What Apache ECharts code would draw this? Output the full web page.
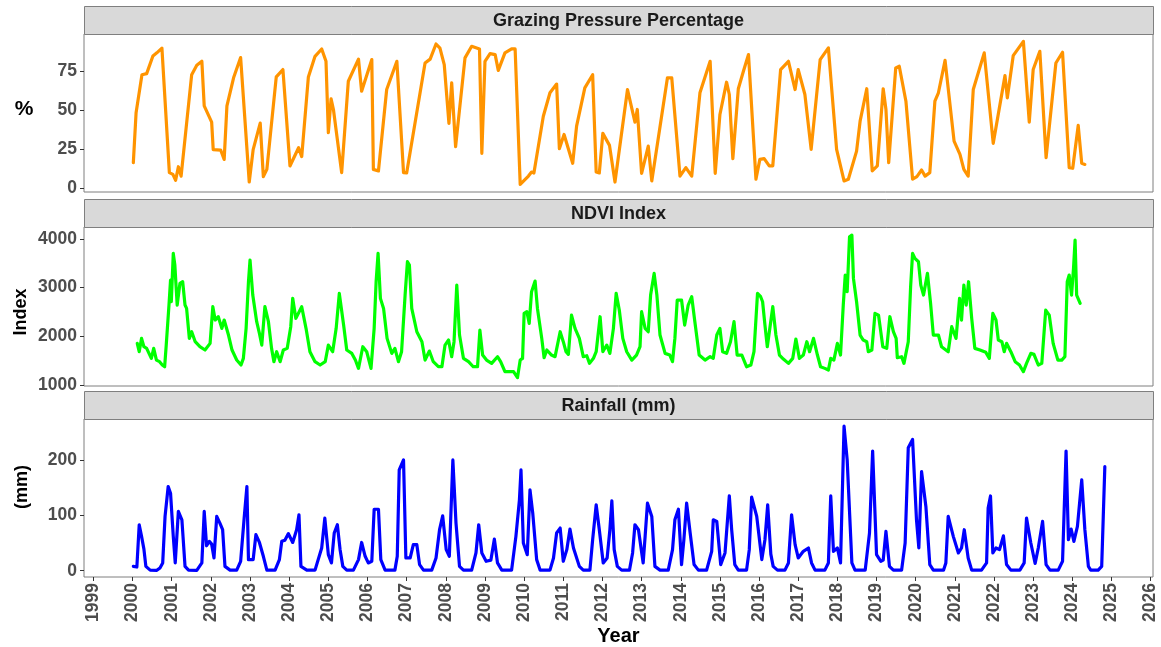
<!DOCTYPE html>
<html>
<head>
<meta charset="utf-8">
<script src="https://cdn.jsdelivr.net/npm/echarts@6/dist/echarts.min.js"></script>
<style>
  html, body { margin: 0; padding: 0; background: #fff; }
  #chart { width: 1161px; height: 647px; }
</style>
</head>
<body>
<div id="chart"></div>
<script>
// x = decimal year
const grazing = [[2000.02,16.6],[2000.09,48.6],[2000.24,73],[2000.36,73.7],[2000.52,85],[2000.62,87],[2000.75,90],[2000.79,89],[2000.94,10.2],[2001.03,9.1],[2001.10,5.3],[2001.17,14],[2001.24,8],[2001.51,73],[2001.64,79],[2001.77,81.6],[2001.83,53],[2002.02,42.6],[2002.06,25],[2002.25,24.7],[2002.34,18.7],[2002.41,53],[2002.58,71],[2002.76,84],[2002.98,4.2],[2003.08,25],[2003.26,42],[2003.34,7.7],[2003.43,12.3],[2003.67,71.6],[2003.84,76.3],[2004.02,14.5],[2004.24,26.2],[2004.32,20.5],[2004.49,71.6],[2004.66,84.8],[2004.83,89.5],[2004.94,81.6],[2005.0,35.8],[2005.07,57.5],[2005.13,50.7],[2005.34,10.2],[2005.51,68.8],[2005.77,83],[2005.85,62.4],[2006.11,82.7],[2006.15,12.3],[2006.28,11.3],[2006.49,63.5],[2006.75,81.6],[2006.92,10.2],[2007.0,10],[2007.47,80.5],[2007.6,83],[2007.75,92.7],[2007.85,90],[2007.96,79.5],[2008.08,41.8],[2008.15,67.8],[2008.25,26.9],[2008.49,83.8],[2008.66,91.2],[2008.86,89.5],[2008.92,22.6],[2009.0,81.6],[2009.13,86.5],[2009.26,85.9],[2009.34,75.8],[2009.51,87],[2009.68,89.5],[2009.77,89.5],[2009.90,2.7],[2010.11,8],[2010.19,10.6],[2010.25,10],[2010.49,46.4],[2010.66,61.4],[2010.83,67],[2010.90,25.6],[2011.02,34.7],[2011.24,16.2],[2011.34,40],[2011.55,64.6],[2011.75,73],[2011.84,10.6],[2011.92,10],[2012.01,35.4],[2012.18,27.7],[2012.32,4.2],[2012.64,63.5],[2012.83,42.6],[2012.89,50.7],[2013.0,9.8],[2013.17,27.2],[2013.26,4.9],[2013.66,71],[2013.77,71],[2013.98,8],[2014.13,13.4],[2014.28,8],[2014.49,61.4],[2014.75,81.6],[2014.88,9.8],[2015.0,47.5],[2015.17,68.2],[2015.24,60.3],[2015.33,19.2],[2015.47,64],[2015.6,75.2],[2015.73,85.9],[2015.77,87],[2015.92,6],[2016.02,18.7],[2016.13,19.2],[2016.26,14.5],[2016.35,14.5],[2016.55,76.3],[2016.75,81.6],[2016.92,63.5],[2017.0,76.3],[2017.17,60.3],[2017.33,25.1],[2017.56,82.7],[2017.77,90.2],[2017.98,25.1],[2018.17,4.9],[2018.28,6],[2018.49,24],[2018.58,43.2],[2018.75,64],[2018.89,11.3],[2019.02,14.5],[2019.17,64],[2019.24,50.7],[2019.31,16.6],[2019.49,77.4],[2019.58,78.4],[2019.75,56],[2019.92,6],[2020.03,7.7],[2020.15,11.9],[2020.24,8],[2020.36,10.2],[2020.49,56],[2020.58,61.4],[2020.75,82.2],[2020.98,30.4],[2021.13,21.9],[2021.23,12.3],[2021.34,8],[2021.47,63.5],[2021.75,87],[2021.98,29],[2022.28,72.4],[2022.34,58.2],[2022.49,85.2],[2022.75,94.4],[2022.90,42.6],[2023.0,76.3],[2023.17,88],[2023.33,19.8],[2023.58,80.5],[2023.75,87.4],[2023.92,13.4],[2024.01,13],[2024.15,40.5],[2024.24,16.2],[2024.32,15.5]];

const ndvi = [[2000.12,1856],[2000.17,1684],[2000.23,1958],[2000.29,1787],[2000.36,1753],[2000.42,1650],[2000.48,1548],[2000.54,1753],[2000.61,1513],[2000.69,1479],[2000.76,1411],[2000.82,1376],[2000.86,1821],[2000.93,2643],[2000.97,3156],[2000.99,2711],[2001.04,3704],[2001.08,3464],[2001.14,2643],[2001.21,3088],[2001.28,3122],[2001.34,2643],[2001.38,2574],[2001.45,1958],[2001.51,2095],[2001.60,1890],[2001.72,1787],[2001.85,1719],[2001.98,1856],[2002.05,2609],[2002.11,2335],[2002.19,2403],[2002.28,2164],[2002.34,2335],[2002.45,2027],[2002.54,1719],[2002.66,1513],[2002.77,1411],[2002.83,1548],[2002.90,2164],[2002.96,3122],[2003.0,3567],[2003.07,2848],[2003.17,2301],[2003.24,2061],[2003.30,1821],[2003.38,2609],[2003.47,2301],[2003.55,1753],[2003.61,1479],[2003.68,1684],[2003.77,1479],[2003.85,1719],[2003.95,1753],[2004.04,2198],[2004.09,2780],[2004.17,2369],[2004.32,2609],[2004.43,2164],[2004.53,1684],[2004.66,1479],[2004.79,1411],[2004.92,1479],[2005.0,1821],[2005.11,1684],[2005.20,2164],[2005.28,2882],[2005.39,2232],[2005.47,1719],[2005.60,1650],[2005.69,1513],[2005.77,1342],[2005.88,1787],[2005.98,1684],[2006.09,1342],[2006.17,2164],[2006.22,3122],[2006.27,3704],[2006.33,2780],[2006.41,2574],[2006.50,1958],[2006.62,1650],[2006.70,1753],[2006.79,1479],[2006.87,1684],[2006.96,2848],[2007.02,3533],[2007.07,3464],[2007.13,2574],[2007.26,2095],[2007.39,1890],[2007.47,1513],[2007.58,1698],[2007.68,1479],[2007.81,1376],[2007.90,1376],[2007.98,1821],[2008.07,1924],[2008.15,1582],[2008.21,1890],[2008.28,3053],[2008.35,2027],[2008.45,1548],[2008.58,1479],[2008.70,1376],[2008.81,1376],[2008.87,2129],[2008.94,1616],[2009.04,1513],[2009.17,1445],[2009.32,1582],[2009.40,1479],[2009.51,1274],[2009.64,1274],[2009.73,1274],[2009.83,1151],[2009.90,1513],[2009.96,1548],[2010.0,2472],[2010.07,2506],[2010.13,2266],[2010.19,2917],[2010.28,3136],[2010.34,2574],[2010.45,1958],[2010.51,1561],[2010.58,1719],[2010.70,1616],[2010.79,1582],[2010.92,2095],[2011.0,1890],[2011.07,1684],[2011.13,1630],[2011.21,2437],[2011.30,2164],[2011.41,1958],[2011.51,1582],[2011.60,1602],[2011.67,1445],[2011.77,1548],[2011.84,1684],[2011.94,2403],[2012.01,1684],[2012.11,1821],[2012.19,1650],[2012.28,2164],[2012.35,2882],[2012.43,2540],[2012.52,1958],[2012.62,1684],[2012.75,1513],[2012.87,1616],[2012.96,1787],[2013.0,2506],[2013.09,2164],[2013.17,2095],[2013.23,2848],[2013.32,3293],[2013.39,2848],[2013.47,2027],[2013.60,1650],[2013.72,1616],[2013.79,1479],[2013.85,1958],[2013.91,2745],[2014.02,2745],[2014.10,2232],[2014.19,2643],[2014.28,2814],[2014.36,2301],[2014.47,1616],[2014.62,1513],[2014.75,1582],[2014.83,1548],[2014.92,2027],[2015.0,2164],[2015.07,1684],[2015.17,1650],[2015.27,1890],[2015.36,2301],[2015.44,1616],[2015.56,1616],[2015.68,1376],[2015.79,1411],[2015.87,1684],[2015.96,2882],[2016.04,2814],[2016.09,2711],[2016.15,2232],[2016.21,1787],[2016.35,2609],[2016.43,2027],[2016.52,1616],[2016.62,1534],[2016.75,1445],[2016.86,1548],[2016.94,1945],[2017.03,1548],[2017.13,1616],[2017.22,1890],[2017.29,1684],[2017.39,1958],[2017.49,1616],[2017.57,1376],[2017.68,1342],[2017.77,1308],[2017.83,1548],[2017.91,1513],[2018.0,1856],[2018.08,1616],[2018.15,2643],[2018.20,3259],[2018.25,2917],[2018.31,4046],[2018.37,4080],[2018.41,3190],[2018.49,2711],[2018.58,2027],[2018.66,1924],[2018.75,1890],[2018.79,1684],[2018.88,1719],[2018.96,2472],[2019.05,2437],[2019.16,1787],[2019.26,1753],[2019.34,2403],[2019.43,2095],[2019.50,1958],[2019.53,1561],[2019.64,1582],[2019.70,1445],[2019.81,1890],[2019.87,3019],[2019.92,3704],[2019.98,3601],[2020.07,3533],[2020.13,3053],[2020.20,2848],[2020.30,3293],[2020.38,2677],[2020.45,2027],[2020.58,2027],[2020.66,1787],[2020.83,1684],[2020.92,2198],[2021.03,1958],[2021.12,2780],[2021.17,2335],[2021.23,3053],[2021.29,2643],[2021.35,3122],[2021.43,2369],[2021.51,1753],[2021.64,1719],[2021.79,1671],[2021.88,1548],[2021.97,2472],[2022.05,2335],[2022.11,1924],[2022.20,1890],[2022.26,1684],[2022.32,1856],[2022.43,1684],[2022.54,1479],[2022.65,1411],[2022.75,1274],[2022.83,1445],[2022.94,1650],[2023.02,1630],[2023.13,1411],[2023.22,1445],[2023.32,2540],[2023.41,2437],[2023.51,1856],[2023.63,1513],[2023.73,1513],[2023.81,1582],[2023.87,3122],[2023.92,3259],[2023.98,2848],[2024.03,3396],[2024.07,3978],[2024.11,2848],[2024.20,2677]];

const rainfall = [[2000.02,7.8],[2000.11,6.6],[2000.17,83],[2000.23,62],[2000.29,39],[2000.34,7.8],[2000.45,1],[2000.62,0.6],[2000.70,5],[2000.77,14],[2000.83,98],[2000.91,152],[2000.97,140],[2001.04,62],[2001.09,14],[2001.17,107],[2001.26,92],[2001.34,7.8],[2001.43,1],[2001.64,0.6],[2001.77,14],[2001.83,107],[2001.89,45],[2001.96,53],[2002.02,48],[2002.08,23],[2002.15,98],[2002.23,86],[2002.30,74],[2002.36,7.8],[2002.49,1],[2002.66,1],[2002.76,17],[2002.85,95],[2002.92,152],[2002.96,20],[2003.08,20],[2003.15,65],[2003.24,51],[2003.34,26],[2003.43,1],[2003.64,1],[2003.75,20],[2003.81,53],[2003.89,55],[2003.98,67],[2004.09,51],[2004.19,74],[2004.25,101],[2004.30,7.8],[2004.45,1],[2004.66,1],[2004.83,41],[2004.91,95],[2005.0,29],[2005.08,14],[2005.15,68],[2005.23,83],[2005.30,38],[2005.37,7.8],[2005.47,1],[2005.64,1],[2005.77,20],[2005.85,51],[2005.94,26],[2006.02,14],[2006.11,17],[2006.17,111],[2006.28,111],[2006.34,20],[2006.45,1],[2006.70,1],[2006.76,26],[2006.81,182],[2006.92,200],[2006.98,23],[2007.09,23],[2007.17,47],[2007.26,47],[2007.33,11],[2007.43,1],[2007.64,1],[2007.75,23],[2007.84,74],[2007.92,99],[2008.01,38],[2008.09,26],[2008.18,200],[2008.26,86],[2008.35,7.8],[2008.45,1],[2008.66,1],[2008.77,32],[2008.84,83],[2008.92,32],[2009.03,17],[2009.15,19],[2009.24,57],[2009.32,14],[2009.43,1],[2009.68,1],[2009.79,62],[2009.88,128],[2009.92,182],[2009.98,50],[2010.08,29],[2010.15,146],[2010.22,104],[2010.32,20],[2010.41,1],[2010.66,1],[2010.75,23],[2010.83,68],[2010.92,77],[2011.0,17],[2011.09,38],[2011.17,75],[2011.26,41],[2011.41,7.8],[2011.51,1],[2011.68,1],[2011.75,56],[2011.84,119],[2011.92,74],[2012.02,14],[2012.12,23],[2012.19,74],[2012.24,126],[2012.30,38],[2012.38,7.8],[2012.49,1],[2012.69,1],[2012.77,32],[2012.83,83],[2012.92,74],[2013.04,14],[2013.09,62],[2013.15,122],[2013.26,98],[2013.34,7.8],[2013.47,1],[2013.68,1],[2013.79,38],[2013.85,92],[2013.94,111],[2014.02,11],[2014.08,56],[2014.15,122],[2014.24,68],[2014.34,11],[2014.45,1],[2014.66,1],[2014.79,35],[2014.83,92],[2014.92,89],[2015.02,11],[2015.13,32],[2015.24,135],[2015.30,74],[2015.38,11],[2015.47,1],[2015.68,1],[2015.75,38],[2015.81,133],[2015.94,98],[2016.07,20],[2016.15,56],[2016.22,119],[2016.30,30],[2016.36,7.8],[2016.47,1],[2016.66,1],[2016.75,14],[2016.83,101],[2016.92,47],[2017.0,23],[2017.13,35],[2017.26,41],[2017.34,14],[2017.43,1],[2017.68,1],[2017.77,14],[2017.83,135],[2017.90,35],[2018.0,41],[2018.08,14],[2018.17,261],[2018.25,200],[2018.37,14],[2018.45,1],[2018.71,1],[2018.82,68],[2018.90,216],[2019.0,29],[2019.11,17],[2019.17,19],[2019.24,71],[2019.33,7.8],[2019.43,1],[2019.64,1],[2019.73,50],[2019.81,222],[2019.92,237],[2020.02,92],[2020.08,41],[2020.15,179],[2020.26,116],[2020.36,11],[2020.45,1],[2020.71,1],[2020.77,14],[2020.83,98],[2020.96,62],[2021.09,32],[2021.17,41],[2021.24,74],[2021.34,23],[2021.43,1],[2021.68,1],[2021.81,14],[2021.85,113],[2021.91,135],[2021.97,32],[2022.05,41],[2022.14,38],[2022.24,63],[2022.32,11],[2022.43,1],[2022.66,1],[2022.77,14],[2022.83,95],[2022.94,50],[2023.05,13],[2023.13,41],[2023.24,89],[2023.33,11],[2023.43,1],[2023.64,1],[2023.75,17],[2023.84,216],[2023.90,56],[2023.97,75],[2024.04,53],[2024.13,80],[2024.24,164],[2024.32,74],[2024.41,7.8],[2024.47,1],[2024.66,1],[2024.75,7.8],[2024.79,98],[2024.83,188]];

const yearTicks = [1999,2000,2001,2002,2003,2004,2005,2006,2007,2008,2009,2010,2011,2012,2013,2014,2015,2016,2017,2018,2019,2020,2021,2022,2023,2024,2025,2026];
const grazingTicks = [0, 25, 50, 75];
const ndviTicks = [1000, 2000, 3000, 4000];
const rainTicks = [0, 100, 200];
const panelTitles = ['Grazing Pressure Percentage', 'NDVI Index', 'Rainfall (mm)'];
const axisTitles = ['%', 'Index', '(mm)'];

const FONT = '"Liberation Sans", Arial, sans-serif';
const BORDER = '#7f7f7f';
const L = 84, W = 1069;
const panels = [
  { top: 34,  height: 158, strip: 6 },
  { top: 227, height: 159, strip: 199 },
  { top: 419, height: 158, strip: 391 },
];

const chart = echarts.init(document.getElementById('chart'), null, { renderer: 'canvas' });

const xAxes = panels.map((p, i) => ({
  type: 'value', gridIndex: i, min: 1998.76, max: 2026.06,
  axisLine: { show: false, onZero: false },
  splitLine: { show: false },
  axisTick: {
    show: i === 2, length: 4, customValues: yearTicks,
    lineStyle: { color: '#333', width: 1 },
  },
  axisLabel: {
    show: i === 2, customValues: yearTicks, rotate: 90, margin: 6,
    color: '#4d4d4d', fontWeight: 'bold', fontSize: 17.5, fontFamily: FONT,
    formatter: v => String(v),
  },
}));

function yAxis(i, min, max, ticks) {
  return {
    type: 'value', gridIndex: i, min, max,
    axisLine: { show: false, onZero: false },
    splitLine: { show: false },
    axisTick: { show: true, length: 4, customValues: ticks, lineStyle: { color: '#333', width: 1 } },
    axisLabel: {
      customValues: ticks, margin: 7,
      color: '#4d4d4d', fontWeight: 'bold', fontSize: 17.5, fontFamily: FONT,
      formatter: v => String(v),
    },
  };
}

const graphic = [];
panels.forEach((p, i) => {
  graphic.push({
    type: 'rect', silent: true,
    shape: { x: L + 0.5, y: p.strip + 0.5, width: W, height: 28 },
    style: { fill: '#d9d9d9', stroke: BORDER, lineWidth: 1 },
  });
  graphic.push({
    type: 'text', silent: true, x: L + W / 2, y: p.strip + 15,
    style: {
      text: panelTitles[i], align: 'center', verticalAlign: 'middle',
      font: 'bold 18px ' + FONT, fill: '#1a1a1a',
    },
  });
});
graphic.push({ type: 'text', silent: true, x: 24, y: 109,
  style: { text: axisTitles[0], align: 'center', verticalAlign: 'middle', font: 'bold 21px ' + FONT, fill: '#000' } });
graphic.push({ type: 'text', silent: true, x: 21, y: 312, rotation: Math.PI / 2,
  style: { text: axisTitles[1], align: 'center', verticalAlign: 'middle', font: 'bold 18px ' + FONT, fill: '#000' } });
graphic.push({ type: 'text', silent: true, x: 22, y: 487, rotation: Math.PI / 2,
  style: { text: axisTitles[2], align: 'center', verticalAlign: 'middle', font: 'bold 18px ' + FONT, fill: '#000' } });
graphic.push({ type: 'text', silent: true, x: L + W / 2, y: 636,
  style: { text: 'Year', align: 'center', verticalAlign: 'middle', font: 'bold 20px ' + FONT, fill: '#000' } });

const lineSeries = (i, data, color) => ({
  type: 'line', xAxisIndex: i, yAxisIndex: i, data,
  showSymbol: false, symbol: 'none',
  lineStyle: { color, width: 3.2, join: 'round', cap: 'round' },
  clip: true,
});

chart.setOption({
  animation: false,
  backgroundColor: '#fff',
  grid: panels.map(p => ({
    left: L, top: p.top, width: W, height: p.height,
    show: true, borderColor: BORDER, borderWidth: 1, backgroundColor: '#fff',
    containLabel: false,
  })),
  xAxis: xAxes,
  yAxis: [
    yAxis(0, -2.2, 99.1, grazingTicks),
    yAxis(1, 980, 4246, ndviTicks),
    yAxis(2, -11.4, 274, rainTicks),
  ],
  series: [
    lineSeries(0, grazing, '#ff9400'),
    lineSeries(1, ndvi, '#00ff00'),
    lineSeries(2, rainfall, '#0000ff'),
  ],
  graphic,
});
</script>
</body>
</html>
